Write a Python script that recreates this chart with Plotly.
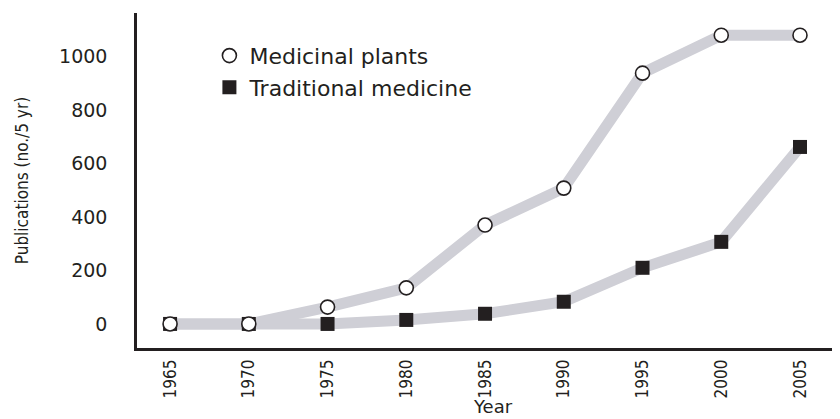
import plotly.graph_objects as go

years = [1965, 1970, 1975, 1980, 1985, 1990, 1995, 2000, 2005]
medicinal_plants = [0, 0, 63, 135, 370, 508, 938, 1080, 1080]
traditional_medicine = [0, 0, 0, 15, 38, 83, 210, 307, 662]
year_labels = [str(y) for y in years]
y_ticks = [0, 200, 400, 600, 800, 1000]

DARK = "#231f20"
GREY = "#cfcfd6"
NARROW = "DejaVu Sans Condensed, sans-serif"
WIDE = "DejaVu Sans, Verdana, sans-serif"

fig = go.Figure()
fig.add_trace(go.Scatter(x=years, y=medicinal_plants, mode="lines",
                         line=dict(color=GREY, width=11), showlegend=False, hoverinfo="skip"))
fig.add_trace(go.Scatter(x=years, y=traditional_medicine, mode="lines",
                         line=dict(color=GREY, width=11), showlegend=False, hoverinfo="skip"))
fig.add_trace(go.Scatter(x=years, y=traditional_medicine, mode="markers", name="Traditional medicine",
                         legendrank=2,
                         marker=dict(symbol="square", size=14, color=DARK, line=dict(width=0))))
fig.add_trace(go.Scatter(x=years, y=medicinal_plants, mode="markers", name="Medicinal plants",
                         legendrank=1,
                         marker=dict(symbol="circle", size=14, color="white", line=dict(width=1.6, color=DARK))))

fig.update_layout(
    width=832, height=411,
    margin=dict(l=129, r=0, t=5, b=71),
    paper_bgcolor="white", plot_bgcolor="white",
    showlegend=True,
    legend=dict(x=0.103, y=0.935, xanchor="left", yanchor="top",
                font=dict(family=WIDE, size=22, color=DARK),
                bgcolor="rgba(0,0,0,0)", itemwidth=30, tracegroupgap=0),
    xaxis=dict(range=[1962.9, 2007.54], tickmode="array", tickvals=years, ticktext=year_labels,
               tickangle=-90, showgrid=False, zeroline=False, automargin=False,
               showline=True, linecolor=DARK, linewidth=2.5, ticks="",
               ticklabelstandoff=2,
               tickfont=dict(family=NARROW, size=17, color=DARK)),
    yaxis=dict(range=[-90, 1163], tickmode="array", tickvals=y_ticks,
               showgrid=False, zeroline=False, automargin=False,
               showline=True, linecolor=DARK, linewidth=2.5, ticks="",
               ticklabelstandoff=23,
               tickfont=dict(family=WIDE, size=19, color=DARK)),
    annotations=[
        dict(text="Year", xref="paper", yref="paper", x=0.506, y=-0.176,
             xanchor="center", yanchor="middle", showarrow=False,
             font=dict(family=WIDE, size=18, color=DARK)),
        dict(text="Publications (no./5 yr)", xref="paper", yref="paper", x=-0.164, y=0.5,
             xanchor="center", yanchor="middle", showarrow=False, textangle=-90,
             font=dict(family=NARROW, size=17, color=DARK)),
    ],
)

fig.write_html("out.html")
